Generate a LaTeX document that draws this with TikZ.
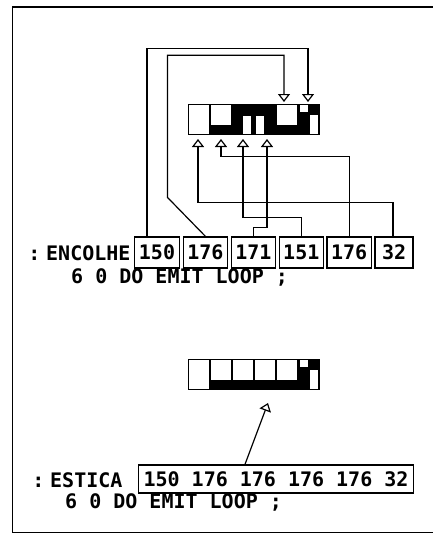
\documentclass[tikz,border=0pt]{standalone}
\usepackage{fontspec}
\setmainfont{DejaVu Sans Mono}
\usetikzlibrary{arrows.meta,positioning}
\tikzset{
  txt/.style={inner sep=0pt, font=\bfseries\fontsize{20}{24}\selectfont},
  numbox/.style={draw, line width=1.3pt, inner xsep=4pt, inner ysep=0pt, minimum height=31pt, font=\bfseries\fontsize{20}{24}\selectfont},
  link/.style={line width=1.2pt, -{Triangle[open, width=12pt, length=8pt]}},
  g32/.pic={\fill (0,0) rectangle (22,31); \fill[white] (1.3,1.3) rectangle (20.7,29.7);},
  g176/.pic={\fill (0,0) rectangle (22,31); \fill[white] (1.3,1.3) rectangle (20.5,21);},
  g171/.pic={\fill (0,0) rectangle (22,31); \fill[white] (11,11.5) rectangle (19,29.7);},
  g151/.pic={\fill (0,0) rectangle (22,31); \fill[white] (2,11.5) rectangle (9.5,29.7);},
  g150/.pic={\fill (0,0) rectangle (22,31); \fill[white] (2.3,1.3) rectangle (9.5,8); \fill[white] (11.5,11) rectangle (19.5,29.7);}
}
\begin{document}
\begin{tikzpicture}[x=1pt, y=-1pt]
  \useasboundingbox (0,0) rectangle (432,535);
  \draw[line width=1.5pt] (12.5,7) rectangle (436,532.5);
  \begin{scope}
    \foreach \g [count=\i from 0] in {g32,g176,g171,g151,g176,g150}{\pic at ({188+22*\i},104) {\g};}
    \coordinate (dn5) at (284,102);
    \coordinate (dn6) at (308,102);
    \coordinate (up1) at (198,139);
    \coordinate (up2) at (221,139);
    \coordinate (up3) at (243,139);
    \coordinate (up4) at (267,139);
    \node[txt, anchor=base] (colon1) at (34.5,260) {:};
    \node[txt, anchor=base west] (encolhe) at (46,260) {ENCOLHE};
    \node[numbox, inner xsep=4.5pt] (enc1) at (157,252.5) {150};
    \node[numbox, right=2.5pt of enc1] (enc2) {176};
    \node[numbox, right=2.5pt of enc2] (enc3) {171};
    \node[numbox, right=2.5pt of enc3] (enc4) {151};
    \node[numbox, right=2.5pt of enc4] (enc5) {176};
    \node[numbox, minimum width=38pt, right=2.5pt of enc5] (enc6) {32};
    \node[txt, anchor=base west] (loop1) at (71,283) {6 0 DO EMIT LOOP ;};
    \draw[link] ([xshift=-10pt]enc1.north) -- ++(0,-188) -| (dn6);
    \draw[link] (enc2.north) -- ++(-38,-39) -- ++(0,-142) -| (dn5);
    \draw[link] (enc3.north) -- ++(0,-9) -| (up4);
    \draw[link] (enc4.north) -- ++(0,-19) -| (up3);
    \draw[link] (enc5.north) -- ++(0,-80) -| (up2);
    \draw[link] ([xshift=-1pt]enc6.north) -- ++(0,-34) -| (up1);
  \end{scope}
  \begin{scope}
    \foreach \g [count=\i from 0] in {g32,g176,g176,g176,g176,g150}{\pic at ({188+22*\i},359) {\g};}
    \coordinate (tip) at (268,403);
    \node[txt, anchor=base] (colon2) at (38.5,487) {:};
    \node[txt, anchor=base west] (estica) at (50,487) {ESTICA};
    \node[numbox, minimum height=28pt, inner xsep=5pt] (est) at (276,479) {150 176 176 176 176 32};
    \node[txt, anchor=base west] (loop2) at (65,508) {6 0 DO EMIT LOOP ;};
    \draw[link] ([xshift=-31pt]est.north) -- (tip);
  \end{scope}
\end{tikzpicture}
\end{document}
